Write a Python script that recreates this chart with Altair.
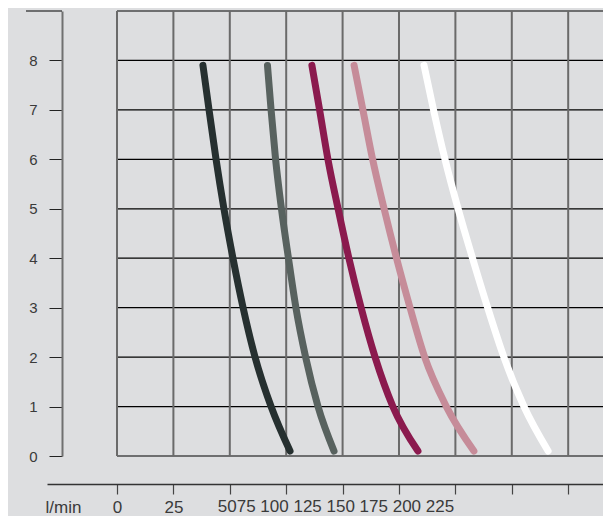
import altair as alt
import pandas as pd

# ---- data ----
pressure = [7.9, 7, 6, 5, 4, 3, 2, 1, 0.1]
flow_a = [38.1, 40.8, 43.9, 47.4, 51.4, 55.9, 61.2, 68.3, 76.7]
flow_b = [66.7, 68.3, 70.3, 72.9, 76.0, 79.3, 83.6, 89.1, 96.2]
flow_c = [86.4, 89.8, 93.5, 98.0, 102.8, 108.2, 114.4, 122.3, 133.4]
flow_d = [105.1, 109.0, 113.3, 118.4, 123.9, 129.9, 136.4, 146.0, 158.2]
flow_e = [136.1, 140.3, 145.4, 151.2, 157.6, 164.3, 171.5, 180.4, 191.1]
series_names = ["A", "B", "C", "D", "E"]
series_colors = ["#263030", "#58625f", "#8b1a4e", "#c68c99", "#ffffff"]

y_ticks = [0, 1, 2, 3, 4, 5, 6, 7, 8]
grid_y = [0, 1, 2, 3, 4, 5, 6, 7, 8, 9]
grid_x = [0, 25, 50, 75, 100, 125, 150, 175, 200]
x_labels = ["0", "25", "50", "75", "100", "125", "150", "175", "200", "225"]
x_unit = "l/min"

rows = []
for name, flows in zip(series_names, [flow_a, flow_b, flow_c, flow_d, flow_e]):
    for f, p in zip(flows, pressure):
        rows.append({"series": name, "flow": f, "bar": p})
curves = pd.DataFrame(rows)

run_text = x_labels[2] + x_labels[3] + " " + " ".join(x_labels[4:])
run_df = pd.DataFrame({"flow": [grid_x[2]], "text": [run_text]})

xscale = alt.Scale(domain=[-31.03, 215.43], range=[-70, 486], nice=False, zero=False)
yscale = alt.Scale(domain=[0, 9], nice=False, zero=False)

FONT = "Liberation Sans"
LABEL_COLOR = "#3a3a3a"
FS = 17

y_axis = alt.Axis(values=y_ticks, offset=55, tickSize=13, labelPadding=12,
                  domainColor="#707070", domainWidth=2, tickColor="#222222",
                  tickWidth=1, labelFontSize=15, labelColor=LABEL_COLOR,
                  labelFont=FONT, grid=False, title=None)

x_axis = alt.Axis(values=grid_x, orient="bottom", offset=28, tickSize=10,
                  tickColor="#444444", tickWidth=1.2,
                  domainColor="#333333", domainWidth=1.3,
                  labelExpr="datum.value <= 25 ? datum.label : ''",
                  labelBaseline="alphabetic", labelPadding=18,
                  labelFontSize=FS, labelColor=LABEL_COLOR, labelFont=FONT,
                  labelFlush=False, labelOverlap=False, grid=False,
                  title=x_unit, titleX=-72, titleY=28, titleAlign="left",
                  titleBaseline="alphabetic", titleFontSize=FS,
                  titleFontWeight="normal", titleColor=LABEL_COLOR,
                  titleFont=FONT)

hgrid = alt.Chart(pd.DataFrame({"bar": grid_y})).mark_rule(
    color="#000000", strokeWidth=1.2
).encode(
    y=alt.Y("bar:Q", scale=yscale, axis=y_axis)
)

vgrid = alt.Chart(pd.DataFrame({"flow": grid_x})).mark_rule(
    color="#6a6a6a", strokeWidth=2
).encode(
    x=alt.X("flow:Q", scale=xscale, axis=x_axis)
)

corner = alt.Chart(pd.DataFrame({"bar": [grid_y[-1]]})).mark_rule(
    color="#000000", strokeWidth=1.2
).encode(
    y=alt.Y("bar:Q", scale=yscale, axis=y_axis),
    x=alt.value(-91),
    x2=alt.value(-55),
)

lines = alt.Chart(curves).mark_line(
    strokeWidth=7, strokeCap="round", strokeJoin="round", interpolate="monotone"
).encode(
    x=alt.X("flow:Q", scale=xscale, axis=x_axis),
    y=alt.Y("bar:Q", scale=yscale, axis=y_axis),
    color=alt.Color("series:N", scale=alt.Scale(domain=series_names, range=series_colors),
                    legend=None),
    detail="series:N",
)

run = alt.Chart(run_df).mark_text(
    align="left", baseline="alphabetic", dx=-12, fontSize=FS, font=FONT,
    color=LABEL_COLOR
).encode(
    x=alt.X("flow:Q", scale=xscale, axis=x_axis),
    y=alt.value(501),
    text="text:N",
)

chart = alt.layer(hgrid, vgrid, corner, lines, run).properties(
    width=486,
    height=445,
    autosize=alt.AutoSizeParams(type="none"),
    padding={"left": 109, "top": 3, "right": 0, "bottom": 60},
    background="#dddee0",
).configure_view(stroke=None)

chart.save("out.html", embed_options={"renderer": "svg", "actions": False})
